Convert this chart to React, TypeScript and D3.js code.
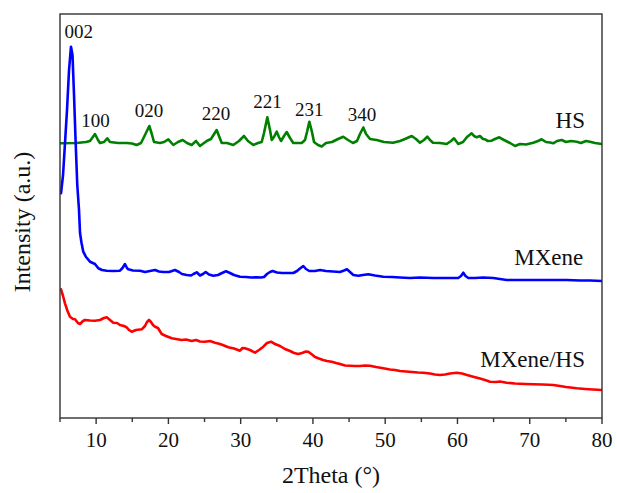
import React from "react";
import * as d3 from "d3";

// ---- Data (2θ in degrees, intensity in a.u.) ----
const hsTheta = [5.0,7.31,8.6,9.15,9.84,10.26,10.53,11.09,11.54,11.92,13.03,14.23,14.96,15.61,16.21,16.69,17.36,17.66,18.01,18.84,19.4,19.99,20.68,21.33,21.98,22.57,23.22,23.82,24.37,25.3,25.89,26.68,27.0,27.38,28.11,28.98,29.77,30.46,31.01,31.75,32.4,32.91,33.23,33.69,34.06,34.3,34.61,34.99,35.3,35.58,36.0,36.37,36.83,37.28,37.8,38.45,38.9,39.18,39.5,39.87,40.15,40.7,41.21,41.81,42.64,43.47,44.2,44.85,45.54,46.1,46.51,46.97,47.35,47.9,48.83,49.83,51.08,52.05,52.74,53.67,54.26,54.81,55.37,55.82,56.2,56.61,57.58,58.51,59.11,59.52,59.8,60.11,60.77,61.32,61.97,62.29,62.66,63.11,63.53,63.81,64.22,64.73,65.19,65.79,66.44,67.27,67.96,68.65,69.48,70.49,71.14,71.65,72.25,72.8,73.26,73.77,74.42,75.02,75.71,76.5,77.09,77.78,78.33,79.03,79.96];
const hsValues = [2747,2750,2760,2770,2840,2780,2750,2760,2797,2760,2750,2750,2745,2730,2750,2820,2920,2850,2760,2750,2760,2787,2730,2760,2780,2750,2730,2770,2720,2770,2790,2880,2820,2750,2750,2730,2770,2820,2770,2730,2750,2760,2850,3007,2880,2780,2810,2863,2810,2770,2820,2860,2800,2750,2750,2750,2780,2860,2963,2860,2760,2730,2715,2750,2760,2790,2813,2780,2750,2770,2840,2905,2840,2790,2780,2760,2753,2770,2790,2820,2790,2753,2780,2813,2780,2753,2750,2740,2770,2797,2770,2740,2760,2810,2847,2820,2807,2820,2790,2787,2770,2773,2790,2807,2780,2750,2720,2740,2735,2753,2770,2787,2760,2755,2747,2770,2780,2760,2770,2763,2750,2770,2763,2750,2740];

const mxTheta = [5.14,5.42,5.69,5.97,6.25,6.52,6.73,6.94,7.17,7.39,7.63,7.77,7.98,8.22,8.6,9.15,9.84,10.3,10.81,11.46,12.33,13.3,13.65,13.99,14.27,14.45,15.1,16.07,16.76,17.45,18.15,18.7,19.29,20.08,20.5,20.91,21.47,21.88,22.53,23.13,23.47,23.92,24.16,24.37,24.79,25.16,25.62,26.21,26.86,27.42,27.97,28.52,29.08,29.91,30.74,31.43,32.22,32.81,33.23,33.64,34.06,34.43,35.03,35.72,36.55,37.28,37.8,38.21,38.67,39.04,39.5,40.29,40.98,41.81,42.78,43.75,44.3,44.71,45.13,45.59,46.28,46.93,47.66,48.59,49.74,50.94,52.05,53.43,54.81,56.66,58.27,59.24,60.11,60.49,60.81,61.11,61.5,62.43,63.53,64.96,65.88,66.81,68.65,70.49,72.8,75.11,76.95,78.34,79.96];
const mxValues = [2247,2430,2747,3080,3480,3713,3630,3230,2747,2330,2080,1850,1750,1663,1610,1563,1540,1497,1480,1473,1470,1473,1500,1540,1500,1487,1475,1473,1460,1470,1480,1465,1460,1460,1470,1480,1460,1440,1430,1425,1440,1457,1440,1425,1440,1460,1435,1423,1430,1450,1467,1450,1430,1413,1410,1405,1407,1405,1410,1440,1460,1470,1455,1450,1450,1450,1470,1495,1520,1490,1470,1470,1480,1470,1465,1460,1475,1487,1460,1430,1423,1430,1437,1425,1413,1410,1405,1400,1405,1400,1400,1400,1400,1420,1453,1420,1400,1400,1405,1400,1390,1380,1380,1380,1380,1380,1375,1375,1370];

const mhTheta = [5.14,5.42,5.69,6.04,6.38,6.8,7.08,7.49,7.77,8.18,8.46,9.15,9.84,10.53,11.09,11.46,11.92,12.38,12.89,13.3,13.86,14.23,14.55,14.92,15.52,16.31,16.76,17.04,17.32,17.59,17.87,18.15,18.56,19.07,19.67,20.46,21.05,21.84,22.43,23.22,23.82,24.37,25.06,25.76,26.45,27.14,27.69,28.29,29.08,29.91,30.26,30.6,31.29,31.98,32.54,33.13,33.64,34.2,34.75,35.44,36.13,36.83,37.38,37.98,38.49,39.04,39.36,39.87,40.29,40.74,41.39,41.95,42.6,43.19,43.75,44.44,45.13,45.82,46.51,47.2,47.9,48.73,49.74,50.66,51.36,52.05,52.88,53.71,54.54,55.27,56.2,56.89,57.58,58.27,58.97,59.89,60.63,61.32,62.19,63.11,63.81,64.5,65.33,65.88,66.81,67.96,69.34,70.49,71.83,73.26,74.19,75.02,76.5,77.65,78.76,79.96];
const mhValues = [1287,1220,1147,1070,1013,990,987,950,940,970,980,975,973,980,1000,1007,980,953,950,930,920,907,880,863,880,887,920,960,980,960,930,913,900,840,820,797,790,780,785,770,780,765,763,770,753,740,725,707,695,673,700,697,680,653,680,713,750,763,740,720,690,670,650,640,650,665,663,635,610,597,580,570,563,550,540,525,523,520,520,525,523,510,497,485,480,470,465,460,455,453,445,435,430,435,445,453,445,430,413,395,380,363,360,365,353,345,340,337,335,330,320,310,297,290,285,280];

const xTicksMajor = [10, 20, 30, 40, 50, 60, 70, 80];
const xTicksMinor = [5, 15, 25, 35, 45, 55, 65, 75];

const peakLabels = ["002", "100", "020", "220", "221", "231", "340"];
const peakLabelTheta = [7.6, 9.9, 17.3, 26.6, 33.7, 39.5, 46.8];
const peakLabelY = [3797, 2913, 3013, 2980, 3097, 3020, 2973];

const seriesNames = ["HS", "MXene", "MXene/HS"];
const seriesColors = ["#008000", "#0000ff", "#ff0000"];
const seriesLabelTheta = [77.65, 77.4, 77.65];
const seriesLabelY = [2897, 1530, 513];

export default function App() {
  const W = 617, H = 493;
  const left = 60, right = 602, top = 14, bottom = 418;
  const x = d3.scaleLinear().domain([5, 80]).range([left, right]);
  const y = d3.scaleLinear().domain([0, 4040]).range([bottom, top]);

  const series = [
    { t: hsTheta, v: hsValues },
    { t: mxTheta, v: mxValues },
    { t: mhTheta, v: mhValues },
  ];
  const line = d3
    .line<[number, number]>()
    .x((d) => x(d[0]))
    .y((d) => y(d[1]));

  const font = "'Liberation Serif', 'Times New Roman', serif";

  return (
    <svg
      width={W}
      height={H}
      style={{ position: "absolute", left: 0, top: 0, background: "#fff" }}
    >
      <rect x={0} y={0} width={W} height={H} fill="#fff" />
      <defs>
        <clipPath id="plotclip">
          <rect x={left} y={top} width={right - left} height={bottom - top} />
        </clipPath>
      </defs>
      <g clipPath="url(#plotclip)">
        {series.map((s, i) => (
          <path
            key={i}
            d={line(s.t.map((t, j) => [t, s.v[j]] as [number, number])) || ""}
            fill="none"
            stroke={seriesColors[i]}
            strokeWidth={2.6}
            strokeLinejoin="round"
            strokeLinecap="round"
          />
        ))}
      </g>
      {/* frame */}
      <rect
        x={left}
        y={top}
        width={right - left}
        height={bottom - top}
        fill="none"
        stroke="#333"
        strokeWidth={1.4}
      />
      {/* ticks */}
      {xTicksMajor.map((t) => (
        <g key={"M" + t}>
          <line x1={x(t)} x2={x(t)} y1={bottom} y2={bottom + 6} stroke="#333" strokeWidth={1.4} />
          <text
            x={x(t)}
            y={447}
            textAnchor="middle"
            fontFamily={font}
            fontSize={21}
            fill="#111"
          >
            {t}
          </text>
        </g>
      ))}
      {xTicksMinor.map((t) => (
        <line key={"m" + t} x1={x(t)} x2={x(t)} y1={bottom} y2={bottom + 4} stroke="#333" strokeWidth={1.4} />
      ))}
      {/* axis titles */}
      <text
        x={(left + right) / 2}
        y={483}
        textAnchor="middle"
        fontFamily={font}
        fontSize={24}
        fill="#111"
      >
        2Theta (°)
      </text>
      <text
        transform={`translate(30, ${(top + bottom) / 2 + 6}) rotate(-90)`}
        textAnchor="middle"
        fontFamily={font}
        fontSize={24}
        fill="#111"
      >
        Intensity (a.u.)
      </text>
      {/* peak labels */}
      {peakLabels.map((p, i) => (
        <text
          key={p}
          x={x(peakLabelTheta[i])}
          y={y(peakLabelY[i])}
          textAnchor="middle"
          fontFamily={font}
          fontSize={19}
          fill="#111"
        >
          {p}
        </text>
      ))}
      {/* series labels */}
      {seriesNames.map((n, i) => (
        <text
          key={n}
          x={x(seriesLabelTheta[i])}
          y={y(seriesLabelY[i])}
          textAnchor="end"
          fontFamily={font}
          fontSize={23}
          fill="#111"
        >
          {n}
        </text>
      ))}
    </svg>
  );
}
